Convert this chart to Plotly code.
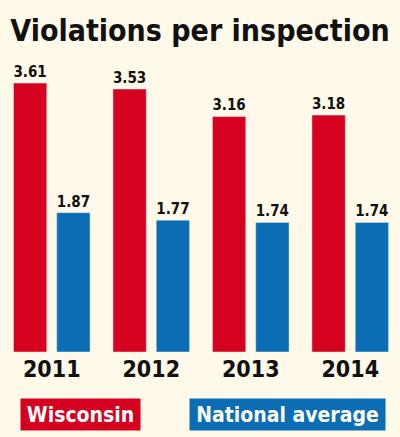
import plotly.graph_objects as go

years = ["2011", "2012", "2013", "2014"]
wisconsin = [3.61, 3.53, 3.16, 3.18]
national = [1.87, 1.77, 1.74, 1.74]

RED = "#d6001f"
BLUE = "#0b6db3"
BG = "#fef9e8"
FONT = "DejaVu Sans Condensed, DejaVu Sans, sans-serif"

fig = go.Figure()
for vals, name, color in [(wisconsin, "Wisconsin", RED), (national, "National average", BLUE)]:
    fig.add_trace(go.Bar(
        x=years, y=vals, name=name, marker_color=color,
        text=[f"{v:.2f}" for v in vals], textposition="outside",
        cliponaxis=False,
        textfont=dict(family=FONT, size=19, color="#111111", weight="bold"),
    ))

fig.update_layout(
    width=400, height=437,
    margin=dict(l=2, r=0, t=60, b=85),
    paper_bgcolor=BG, plot_bgcolor=BG,
    barmode="group", bargap=0.13, bargroupgap=0.23,
    showlegend=False,
    xaxis=dict(showgrid=False, showline=False, zeroline=False, ticks="",
               tickfont=dict(family=FONT, size=23, color="#111111", weight="bold"),
               ticklabelstandoff=1),
    yaxis=dict(range=[0, 3.92], visible=False),
    title=dict(text="Violations per inspection", x=0.5, xanchor="center",
               y=1 - 30 / 437, yanchor="middle",
               font=dict(family=FONT, size=30, color="#111111", weight="bold")),
)

# legend boxes under the years
legend = [("Wisconsin", RED, 18, 119), ("National average", BLUE, 188, 195)]
for label, color, x0, w in legend:
    fig.add_annotation(
        x=x0 / 400, xref="paper", xanchor="left",
        y=-(414 - 352) / 292, yref="paper", yanchor="middle",
        text=label, showarrow=False, bgcolor=color, width=w - 2, height=29,
        borderpad=1, align="center",
        font=dict(family=FONT, size=21, color="white", weight="bold"),
    )

fig.write_html("out.html", config={"displayModeBar": False},
               post_script="document.body.style.margin='0';")
